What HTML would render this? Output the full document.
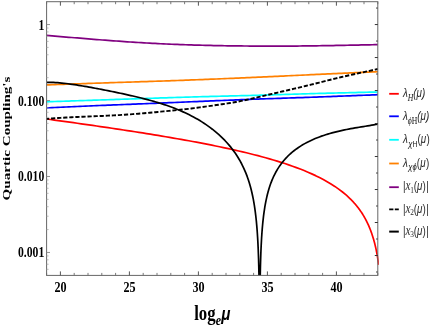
<!DOCTYPE html>
<html><head><meta charset="utf-8"><title>Quartic couplings</title>
<style>
html,body{margin:0;padding:0;background:#fff;}
body{width:436px;height:327px;overflow:hidden;position:relative;font-family:"Liberation Serif",serif;}
svg{position:absolute;left:0;top:0;will-change:transform;}
.tl{font-family:"Liberation Serif",serif;font-weight:bold;font-size:14.8px;fill:#000;}
.lg{font-family:"Liberation Sans",sans-serif;font-style:italic;font-size:12.3px;fill:#2a2a2a;}
</style></head><body>
<svg width="436" height="327" viewBox="0 0 436 327">
<defs><clipPath id="c"><rect x="46.6" y="1.7" width="332.2" height="273.7"/></clipPath></defs>
<g clip-path="url(#c)" fill="none" stroke-width="1.7" stroke-linejoin="round">
<path d="M46.6,119.01 L50.44,119.53 L54.29,120.06 L58.13,120.58 L61.97,121.11 L65.82,121.64 L69.66,122.18 L73.5,122.71 L77.34,123.25 L81.19,123.79 L85.03,124.34 L88.87,124.89 L92.72,125.44 L96.56,125.99 L100.4,126.55 L104.25,127.11 L108.09,127.68 L111.93,128.25 L115.77,128.82 L119.62,129.4 L123.46,129.98 L127.3,130.57 L131.15,131.16 L134.99,131.76 L138.83,132.36 L142.68,132.96 L146.52,133.58 L150.36,134.2 L154.21,134.82 L158.05,135.45 L161.89,136.09 L165.73,136.74 L169.58,137.39 L173.42,138.05 L177.26,138.72 L181.11,139.4 L184.95,140.08 L188.79,140.78 L192.64,141.49 L196.48,142.2 L200.32,142.93 L204.16,143.67 L208.01,144.42 L211.85,145.19 L215.69,145.97 L219.54,146.76 L223.38,147.57 L227.22,148.39 L231.07,149.23 L234.91,150.09 L238.75,150.97 L242.59,151.87 L246.44,152.79 L250.28,153.73 L254.12,154.7 L257.97,155.69 L261.81,156.71 L265.65,157.76 L269.5,158.85 L273.34,159.97 L277.18,161.13 L281.03,162.32 L284.87,163.56 L288.71,164.85 L292.55,166.19 L296.4,167.59 L300.24,169.05 L304.08,170.58 L307.93,172.18 L311.77,173.86 L315.61,175.64 L319.46,177.53 L323.3,179.53 L327.14,181.66 L330.98,183.95 L334.83,186.42 L338.67,189.09 L342.51,192.01 L346.36,195.22 L350.2,198.8 L350.52,199.12 L350.84,199.44 L351.16,199.76 L351.48,200.09 L351.8,200.42 L352.12,200.75 L352.44,201.09 L352.76,201.43 L353.08,201.77 L353.4,202.12 L353.72,202.47 L354.04,202.83 L354.36,203.19 L354.68,203.55 L355,203.92 L355.32,204.29 L355.64,204.67 L355.96,205.05 L356.28,205.43 L356.6,205.82 L356.92,206.22 L357.24,206.62 L357.56,207.02 L357.88,207.43 L358.2,207.85 L358.52,208.27 L358.85,208.7 L359.17,209.13 L359.49,209.57 L359.81,210.01 L360.13,210.46 L360.45,210.92 L360.77,211.39 L361.09,211.86 L361.41,212.33 L361.73,212.82 L362.05,213.31 L362.37,213.81 L362.69,214.32 L363.01,214.83 L363.33,215.36 L363.65,215.89 L363.97,216.43 L364.29,216.99 L364.61,217.55 L364.93,218.12 L365.25,218.7 L365.57,219.29 L365.89,219.89 L366.21,220.51 L366.53,221.13 L366.85,221.77 L367.17,222.42 L367.49,223.09 L367.81,223.77 L368.13,224.46 L368.45,225.17 L368.77,225.89 L369.09,226.63 L369.41,227.39 L369.73,228.17 L370.05,228.96 L370.37,229.78 L370.69,230.62 L371.01,231.48 L371.33,232.36 L371.65,233.27 L371.97,234.2 L372.29,235.16 L372.61,236.15 L372.93,237.17 L373.25,238.22 L373.57,239.31 L373.89,240.44 L374.21,241.61 L374.53,242.82 L374.85,244.08 L375.17,245.38 L375.5,246.75 L375.82,248.17 L376.14,249.66 L376.46,251.21 L376.78,252.85 L377.1,254.57 L377.42,256.39 L377.74,258.31 L378.06,260.36 L378.38,262.54 L378.7,264.88" stroke="#ff0000"/>
<path d="M46.6,107.9 L49.38,107.77 L52.17,107.64 L54.95,107.51 L57.73,107.38 L60.52,107.26 L63.3,107.13 L66.08,107 L68.87,106.87 L71.65,106.75 L74.43,106.62 L77.22,106.49 L80,106.37 L82.78,106.24 L85.56,106.12 L88.35,106 L91.13,105.88 L93.91,105.76 L96.7,105.64 L99.48,105.52 L102.26,105.41 L105.05,105.29 L107.83,105.18 L110.61,105.06 L113.4,104.95 L116.18,104.84 L118.96,104.73 L121.75,104.62 L124.53,104.51 L127.31,104.4 L130.1,104.29 L132.88,104.18 L135.66,104.07 L138.45,103.96 L141.23,103.85 L144.01,103.74 L146.79,103.63 L149.58,103.52 L152.36,103.41 L155.14,103.29 L157.93,103.18 L160.71,103.07 L163.49,102.95 L166.28,102.83 L169.06,102.72 L171.84,102.6 L174.63,102.48 L177.41,102.36 L180.19,102.25 L182.98,102.13 L185.76,102.01 L188.54,101.89 L191.33,101.77 L194.11,101.65 L196.89,101.53 L199.68,101.41 L202.46,101.3 L205.24,101.18 L208.03,101.06 L210.81,100.94 L213.59,100.83 L216.37,100.71 L219.16,100.6 L221.94,100.48 L224.72,100.37 L227.51,100.25 L230.29,100.14 L233.07,100.03 L235.86,99.92 L238.64,99.81 L241.42,99.7 L244.21,99.59 L246.99,99.49 L249.77,99.38 L252.56,99.27 L255.34,99.17 L258.12,99.07 L260.91,98.97 L263.69,98.87 L266.47,98.77 L269.26,98.67 L272.04,98.57 L274.82,98.48 L277.61,98.38 L280.39,98.28 L283.17,98.19 L285.95,98.09 L288.74,98 L291.52,97.91 L294.3,97.81 L297.09,97.72 L299.87,97.62 L302.65,97.53 L305.44,97.43 L308.22,97.33 L311,97.24 L313.79,97.14 L316.57,97.04 L319.35,96.94 L322.14,96.84 L324.92,96.74 L327.7,96.63 L330.49,96.53 L333.27,96.43 L336.05,96.32 L338.84,96.22 L341.62,96.11 L344.4,96.01 L347.18,95.9 L349.97,95.79 L352.75,95.68 L355.53,95.58 L358.32,95.47 L361.1,95.36 L363.88,95.25 L366.67,95.14 L369.45,95.03 L372.23,94.93 L375.02,94.82 L377.8,94.71" stroke="#0000ff"/>
<path d="M46.6,101.8 L49.38,101.71 L52.17,101.61 L54.95,101.52 L57.73,101.43 L60.52,101.33 L63.3,101.24 L66.08,101.14 L68.87,101.05 L71.65,100.96 L74.43,100.86 L77.22,100.77 L80,100.68 L82.78,100.58 L85.56,100.49 L88.35,100.39 L91.13,100.3 L93.91,100.21 L96.7,100.11 L99.48,100.02 L102.26,99.92 L105.05,99.83 L107.83,99.74 L110.61,99.64 L113.4,99.55 L116.18,99.45 L118.96,99.36 L121.75,99.26 L124.53,99.17 L127.31,99.08 L130.1,98.98 L132.88,98.89 L135.66,98.8 L138.45,98.7 L141.23,98.61 L144.01,98.52 L146.79,98.42 L149.58,98.33 L152.36,98.24 L155.14,98.15 L157.93,98.05 L160.71,97.96 L163.49,97.87 L166.28,97.78 L169.06,97.69 L171.84,97.6 L174.63,97.51 L177.41,97.42 L180.19,97.34 L182.98,97.25 L185.76,97.17 L188.54,97.08 L191.33,97 L194.11,96.92 L196.89,96.84 L199.68,96.76 L202.46,96.68 L205.24,96.61 L208.03,96.53 L210.81,96.46 L213.59,96.39 L216.37,96.32 L219.16,96.25 L221.94,96.18 L224.72,96.11 L227.51,96.04 L230.29,95.97 L233.07,95.9 L235.86,95.83 L238.64,95.76 L241.42,95.69 L244.21,95.62 L246.99,95.55 L249.77,95.48 L252.56,95.4 L255.34,95.33 L258.12,95.25 L260.91,95.17 L263.69,95.1 L266.47,95.02 L269.26,94.94 L272.04,94.85 L274.82,94.77 L277.61,94.69 L280.39,94.6 L283.17,94.52 L285.95,94.43 L288.74,94.35 L291.52,94.26 L294.3,94.18 L297.09,94.09 L299.87,94.01 L302.65,93.92 L305.44,93.84 L308.22,93.76 L311,93.68 L313.79,93.6 L316.57,93.52 L319.35,93.44 L322.14,93.37 L324.92,93.29 L327.7,93.22 L330.49,93.15 L333.27,93.07 L336.05,93 L338.84,92.93 L341.62,92.86 L344.4,92.79 L347.18,92.73 L349.97,92.66 L352.75,92.59 L355.53,92.53 L358.32,92.46 L361.1,92.39 L363.88,92.33 L366.67,92.26 L369.45,92.2 L372.23,92.13 L375.02,92.07 L377.8,92" stroke="#00ffff"/>
<path d="M46.6,84.9 L49.38,84.8 L52.17,84.7 L54.95,84.6 L57.73,84.51 L60.52,84.41 L63.3,84.31 L66.08,84.21 L68.87,84.11 L71.65,84.02 L74.43,83.92 L77.22,83.82 L80,83.73 L82.78,83.63 L85.56,83.54 L88.35,83.44 L91.13,83.35 L93.91,83.25 L96.7,83.16 L99.48,83.07 L102.26,82.98 L105.05,82.88 L107.83,82.79 L110.61,82.7 L113.4,82.61 L116.18,82.52 L118.96,82.44 L121.75,82.35 L124.53,82.26 L127.31,82.17 L130.1,82.08 L132.88,81.99 L135.66,81.9 L138.45,81.81 L141.23,81.72 L144.01,81.63 L146.79,81.54 L149.58,81.45 L152.36,81.36 L155.14,81.26 L157.93,81.17 L160.71,81.08 L163.49,80.98 L166.28,80.88 L169.06,80.79 L171.84,80.69 L174.63,80.59 L177.41,80.49 L180.19,80.39 L182.98,80.28 L185.76,80.18 L188.54,80.08 L191.33,79.97 L194.11,79.86 L196.89,79.76 L199.68,79.65 L202.46,79.54 L205.24,79.43 L208.03,79.32 L210.81,79.21 L213.59,79.1 L216.37,78.98 L219.16,78.87 L221.94,78.75 L224.72,78.64 L227.51,78.52 L230.29,78.4 L233.07,78.29 L235.86,78.17 L238.64,78.05 L241.42,77.93 L244.21,77.8 L246.99,77.68 L249.77,77.56 L252.56,77.44 L255.34,77.31 L258.12,77.19 L260.91,77.06 L263.69,76.93 L266.47,76.8 L269.26,76.68 L272.04,76.55 L274.82,76.42 L277.61,76.29 L280.39,76.16 L283.17,76.03 L285.95,75.9 L288.74,75.77 L291.52,75.63 L294.3,75.5 L297.09,75.37 L299.87,75.24 L302.65,75.11 L305.44,74.98 L308.22,74.85 L311,74.72 L313.79,74.59 L316.57,74.46 L319.35,74.33 L322.14,74.2 L324.92,74.07 L327.7,73.95 L330.49,73.82 L333.27,73.69 L336.05,73.57 L338.84,73.44 L341.62,73.32 L344.4,73.19 L347.18,73.07 L349.97,72.94 L352.75,72.82 L355.53,72.69 L358.32,72.57 L361.1,72.45 L363.88,72.32 L366.67,72.2 L369.45,72.08 L372.23,71.95 L375.02,71.83 L377.8,71.71" stroke="#ff8000"/>
<path d="M46.6,35.4 L49.38,35.64 L52.17,35.87 L54.95,36.11 L57.73,36.34 L60.52,36.58 L63.3,36.81 L66.08,37.04 L68.87,37.28 L71.65,37.51 L74.43,37.74 L77.22,37.97 L80,38.2 L82.78,38.43 L85.56,38.65 L88.35,38.88 L91.13,39.1 L93.91,39.32 L96.7,39.54 L99.48,39.76 L102.26,39.98 L105.05,40.19 L107.83,40.4 L110.61,40.61 L113.4,40.82 L116.18,41.02 L118.96,41.22 L121.75,41.42 L124.53,41.61 L127.31,41.8 L130.1,41.99 L132.88,42.17 L135.66,42.35 L138.45,42.52 L141.23,42.69 L144.01,42.86 L146.79,43.02 L149.58,43.18 L152.36,43.33 L155.14,43.47 L157.93,43.61 L160.71,43.75 L163.49,43.88 L166.28,44.01 L169.06,44.13 L171.84,44.25 L174.63,44.36 L177.41,44.47 L180.19,44.57 L182.98,44.67 L185.76,44.77 L188.54,44.86 L191.33,44.95 L194.11,45.03 L196.89,45.11 L199.68,45.19 L202.46,45.27 L205.24,45.34 L208.03,45.4 L210.81,45.47 L213.59,45.53 L216.37,45.59 L219.16,45.64 L221.94,45.69 L224.72,45.74 L227.51,45.78 L230.29,45.83 L233.07,45.87 L235.86,45.9 L238.64,45.93 L241.42,45.97 L244.21,45.99 L246.99,46.02 L249.77,46.04 L252.56,46.06 L255.34,46.08 L258.12,46.09 L260.91,46.1 L263.69,46.11 L266.47,46.12 L269.26,46.12 L272.04,46.13 L274.82,46.13 L277.61,46.12 L280.39,46.12 L283.17,46.11 L285.95,46.1 L288.74,46.08 L291.52,46.07 L294.3,46.05 L297.09,46.03 L299.87,46 L302.65,45.97 L305.44,45.94 L308.22,45.91 L311,45.88 L313.79,45.84 L316.57,45.8 L319.35,45.76 L322.14,45.72 L324.92,45.67 L327.7,45.62 L330.49,45.58 L333.27,45.53 L336.05,45.47 L338.84,45.42 L341.62,45.37 L344.4,45.31 L347.18,45.26 L349.97,45.2 L352.75,45.14 L355.53,45.09 L358.32,45.03 L361.1,44.97 L363.88,44.91 L366.67,44.85 L369.45,44.79 L372.23,44.73 L375.02,44.67 L377.8,44.6" stroke="#800080"/>
<path d="M46.6,118.9 L49.38,118.68 L52.17,118.47 L54.95,118.26 L57.73,118.06 L60.52,117.87 L63.3,117.69 L66.08,117.53 L68.87,117.38 L71.65,117.23 L74.43,117.1 L77.22,116.97 L80,116.85 L82.78,116.74 L85.56,116.62 L88.35,116.51 L91.13,116.4 L93.91,116.29 L96.7,116.17 L99.48,116.05 L102.26,115.93 L105.05,115.8 L107.83,115.67 L110.61,115.53 L113.4,115.39 L116.18,115.23 L118.96,115.08 L121.75,114.91 L124.53,114.73 L127.31,114.55 L130.1,114.35 L132.88,114.14 L135.66,113.93 L138.45,113.7 L141.23,113.46 L144.01,113.21 L146.79,112.96 L149.58,112.71 L152.36,112.45 L155.14,112.19 L157.93,111.93 L160.71,111.67 L163.49,111.41 L166.28,111.15 L169.06,110.88 L171.84,110.61 L174.63,110.34 L177.41,110.05 L180.19,109.76 L182.98,109.46 L185.76,109.14 L188.54,108.82 L191.33,108.49 L194.11,108.14 L196.89,107.78 L199.68,107.41 L202.46,107.03 L205.24,106.65 L208.03,106.25 L210.81,105.85 L213.59,105.45 L216.37,105.05 L219.16,104.64 L221.94,104.23 L224.72,103.82 L227.51,103.39 L230.29,102.94 L233.07,102.48 L235.86,101.99 L238.64,101.46 L241.42,100.91 L244.21,100.33 L246.99,99.73 L249.77,99.11 L252.56,98.48 L255.34,97.83 L258.12,97.17 L260.91,96.51 L263.69,95.85 L266.47,95.19 L269.26,94.53 L272.04,93.88 L274.82,93.23 L277.61,92.59 L280.39,91.94 L283.17,91.3 L285.95,90.65 L288.74,90.01 L291.52,89.36 L294.3,88.7 L297.09,88.04 L299.87,87.38 L302.65,86.7 L305.44,86.03 L308.22,85.34 L311,84.66 L313.79,83.96 L316.57,83.27 L319.35,82.56 L322.14,81.86 L324.92,81.15 L327.7,80.44 L330.49,79.74 L333.27,79.04 L336.05,78.35 L338.84,77.68 L341.62,77.02 L344.4,76.38 L347.18,75.74 L349.97,75.12 L352.75,74.51 L355.53,73.9 L358.32,73.29 L361.1,72.68 L363.88,72.06 L366.67,71.44 L369.45,70.82 L372.23,70.2 L375.02,69.57 L377.8,68.95" stroke="#000" stroke-width="1.9" stroke-dasharray="4.22 1.86" stroke-dashoffset="1.6"/>
<path d="M46.6,82.28 L47.16,82.28 L49.25,82.3 L51.35,82.35 L53.44,82.44 L55.53,82.55 L57.62,82.7 L59.71,82.87 L61.8,83.06 L63.89,83.28 L65.98,83.52 L68.07,83.78 L70.16,84.05 L72.25,84.34 L74.35,84.65 L76.44,84.96 L78.53,85.29 L80.62,85.63 L82.71,85.98 L84.8,86.34 L86.89,86.7 L88.98,87.08 L91.07,87.46 L93.16,87.84 L95.25,88.23 L97.35,88.63 L99.44,89.03 L101.53,89.43 L103.62,89.84 L105.71,90.25 L107.8,90.67 L109.89,91.09 L111.98,91.52 L114.07,91.94 L116.16,92.38 L118.25,92.81 L120.35,93.26 L122.44,93.7 L124.53,94.16 L126.62,94.61 L128.71,95.08 L130.8,95.55 L132.89,96.03 L134.98,96.52 L137.07,97.01 L139.16,97.52 L141.25,98.03 L143.35,98.56 L145.44,99.1 L147.53,99.65 L149.62,100.21 L151.71,100.79 L153.8,101.38 L155.89,101.99 L157.98,102.62 L160.07,103.26 L162.16,103.92 L164.25,104.61 L166.35,105.31 L168.44,106.04 L170.53,106.79 L172.62,107.57 L174.71,108.37 L176.8,109.2 L178.89,110.06 L180.98,110.95 L183.07,111.88 L185.16,112.83 L187.25,113.82 L189.35,114.85 L191.44,115.91 L193.53,117.02 L195.62,118.17 L197.71,119.36 L199.8,120.6 L201.89,121.89 L203.98,123.23 L206.07,124.63 L208.16,126.09 L210.25,127.61 L212.35,129.2 L214.44,130.86 L216.53,132.6 L218.62,134.42 L220.71,136.33 L222.8,138.35 L224.89,140.47 L226.98,142.72 L229.07,145.11 L231.16,147.66 L233.25,150.38 L235.35,153.31 L237.44,156.49 L239.53,159.95 L241.62,163.78 L243.71,168.04 L245.8,172.87 L247.07,176.17 L248.23,179.45 L249.28,182.72 L250.23,185.98 L251.09,189.23 L251.88,192.47 L252.59,195.71 L253.24,198.94 L253.82,202.17 L254.36,205.39 L254.84,208.61 L255.28,211.82 L255.68,215.03 L256.04,218.24 L256.37,221.45 L256.66,224.65 L256.94,227.86 L257.18,231.06 L257.4,234.26 L257.61,237.46 L257.79,240.66 L257.96,243.86 L258.11,247.05 L258.25,250.25 L258.37,253.45 L258.48,256.64 L258.59,259.84 L258.68,263.03 L258.77,266.23 L258.84,269.42 L258.91,272.62 L258.98,275.81 L259.03,278.4 L259.09,278.4 L259.13,278.4 L259.18,278.4 L259.22,278.4 L259.25,278.4 L259.28,278.4 L259.31,278.4 L259.34,278.4 L259.36,278.4 L259.38,278.4 L259.4,278.4 L259.42,278.4 L259.44,278.4 L259.45,278.4 L259.47,278.4 L259.48,278.4 L259.49,278.4 L259.5,278.4 L259.51,278.4 L259.52,278.4 L259.53,278.4 L259.53,278.4 L259.54,278.4 L259.54,278.4 L259.55,278.4 L259.55,278.4 L259.56,278.4 L259.56,278.4 L259.57,278.4 L259.57,278.4 L259.57,278.4 L259.57,278.4 L259.58,278.4 L259.58,278.4 L259.58,278.4 L259.58,278.4 L259.58,278.4 L259.59,278.4 L259.59,278.4 L259.59,278.4 L259.59,278.4 L259.59,278.4 L259.59,278.4 L259.59,278.4 L259.59,278.4 L259.59,278.4 L259.59,278.4 L259.59,278.4 L259.6,278.4 L259.6,278.4 L259.6,278.4 L259.6,278.4 L259.6,278.4 L259.6,278.4 L259.6,278.4 L259.6,278.4 L259.6,278.4 L259.6,278.4 L259.6,278.4 L259.6,278.4 L259.6,278.4 L259.6,278.4 L259.6,278.4 L259.6,278.4 L259.6,278.4 L259.6,278.4 L259.6,278.4 L259.6,278.4 L259.6,278.4 L259.6,278.4 L259.6,278.4 L259.6,278.4 L259.6,278.4 L259.6,278.4 L259.6,278.4 L259.6,278.4 L259.6,278.4 L259.6,278.4 L259.6,278.4 L259.6,278.4 L259.6,278.4 L259.6,278.4 L259.6,278.4 L259.6,278.4 L259.6,278.4 L259.6,278.4 L259.6,278.4 L259.6,278.4 L259.6,278.4 L259.6,278.4 L259.6,278.4 L259.6,278.4 L259.6,278.4 L259.6,278.4 L259.6,278.4 L259.6,278.4 L259.6,278.4 L259.6,278.4 L259.6,278.4 L259.6,278.4 L259.6,278.4 L259.6,278.4 L259.6,278.4 L259.6,278.4 L259.6,278.4 L259.6,278.4 L259.6,278.4 L259.6,278.4 L259.6,278.4 L259.6,278.4 L259.6,278.4 L259.6,278.4 L259.6,278.4 L259.6,278.4 L259.6,278.4 L259.6,278.4 L259.6,278.4 L259.6,278.4 L259.6,278.4 L259.6,278.4 L259.6,278.4 L259.6,278.4 L259.6,278.4 L259.6,278.4 L259.61,278.4 L259.61,278.4 L259.61,278.4 L259.61,278.4 L259.61,278.4 L259.61,278.4 L259.61,278.4 L259.61,278.4 L259.61,278.4 L259.61,278.4 L259.61,278.4 L259.62,278.4 L259.62,278.4 L259.62,278.4 L259.62,278.4 L259.62,278.4 L259.63,278.4 L259.63,278.4 L259.63,278.4 L259.63,278.4 L259.64,278.4 L259.64,278.4 L259.65,278.4 L259.65,278.4 L259.66,278.4 L259.66,278.4 L259.67,278.4 L259.67,278.4 L259.68,278.4 L259.69,278.4 L259.7,278.4 L259.71,278.4 L259.72,278.4 L259.73,278.4 L259.75,278.4 L259.76,278.4 L259.78,278.4 L259.8,278.4 L259.82,278.4 L259.84,278.4 L259.86,278.4 L259.89,278.4 L259.92,278.4 L259.95,278.4 L259.98,278.4 L260.02,278.4 L260.07,278.4 L260.11,278.4 L260.17,278.4 L260.22,276 L260.29,272.82 L260.36,269.65 L260.43,266.48 L260.52,263.31 L260.61,260.14 L260.72,256.98 L260.83,253.82 L260.95,250.66 L261.09,247.5 L261.24,244.35 L261.41,241.2 L261.59,238.06 L261.8,234.92 L262.02,231.78 L262.26,228.65 L262.54,225.53 L262.83,222.42 L263.16,219.31 L263.52,216.21 L263.92,213.11 L264.36,210.03 L264.84,206.96 L265.38,203.9 L265.96,200.85 L266.61,197.81 L267.32,194.78 L268.11,191.77 L268.97,188.78 L269.92,185.8 L270.97,182.84 L272.13,179.9 L273.4,176.98 L275.49,172.77 L277.58,169.11 L279.67,165.89 L281.76,163.03 L283.85,160.45 L285.95,158.11 L288.04,155.97 L290.13,154 L292.22,152.19 L294.31,150.5 L296.4,148.94 L298.49,147.48 L300.58,146.11 L302.67,144.83 L304.76,143.63 L306.85,142.49 L308.95,141.43 L311.04,140.42 L313.13,139.47 L315.22,138.57 L317.31,137.72 L319.4,136.92 L321.49,136.16 L323.58,135.43 L325.67,134.75 L327.76,134.1 L329.85,133.48 L331.95,132.9 L334.04,132.34 L336.13,131.81 L338.22,131.31 L340.31,130.82 L342.4,130.36 L344.49,129.92 L346.58,129.5 L348.67,129.09 L350.76,128.7 L352.85,128.32 L354.95,127.95 L357.04,127.6 L359.13,127.24 L361.22,126.9 L363.31,126.56 L365.4,126.22 L367.49,125.88 L369.58,125.54 L371.67,125.2 L373.76,124.85 L375.85,124.49 L377.8,124.15" stroke="#000" stroke-width="1.7"/>
</g>
<g fill="none" stroke="#666" stroke-width="1">
<rect x="46.6" y="1.7" width="331.2" height="273.7"/>
<path d="M60.4,275.4 v-4 M60.4,1.7 v4 M129.4,275.4 v-4 M129.4,1.7 v4 M198.4,275.4 v-4 M198.4,1.7 v4 M267.4,275.4 v-4 M267.4,1.7 v4 M336.4,275.4 v-4 M336.4,1.7 v4" stroke="#555" stroke-width="1"/>
<path d="M46.6,275.4 v-2.5 M46.6,1.7 v2.5 M74.2,275.4 v-2.5 M74.2,1.7 v2.5 M88,275.4 v-2.5 M88,1.7 v2.5 M101.8,275.4 v-2.5 M101.8,1.7 v2.5 M115.6,275.4 v-2.5 M115.6,1.7 v2.5 M143.2,275.4 v-2.5 M143.2,1.7 v2.5 M157,275.4 v-2.5 M157,1.7 v2.5 M170.8,275.4 v-2.5 M170.8,1.7 v2.5 M184.6,275.4 v-2.5 M184.6,1.7 v2.5 M212.2,275.4 v-2.5 M212.2,1.7 v2.5 M226,275.4 v-2.5 M226,1.7 v2.5 M239.8,275.4 v-2.5 M239.8,1.7 v2.5 M253.6,275.4 v-2.5 M253.6,1.7 v2.5 M281.2,275.4 v-2.5 M281.2,1.7 v2.5 M295,275.4 v-2.5 M295,1.7 v2.5 M308.8,275.4 v-2.5 M308.8,1.7 v2.5 M322.6,275.4 v-2.5 M322.6,1.7 v2.5 M350.2,275.4 v-2.5 M350.2,1.7 v2.5 M364,275.4 v-2.5 M364,1.7 v2.5 M377.8,275.4 v-2.5 M377.8,1.7 v2.5" stroke="#6a6a6a" stroke-width="0.9"/>
<path d="M46.6,252.46 h3.4 M46.6,176.49 h3.4 M46.6,100.52 h3.4 M46.6,24.55 h3.4" stroke="#888" stroke-width="0.9"/>
<path d="M46.6,269.31 h2 M46.6,264.23 h2 M46.6,259.82 h2 M46.6,255.94 h2 M46.6,229.59 h2 M46.6,216.21 h2 M46.6,206.72 h2 M46.6,199.36 h2 M46.6,193.34 h2 M46.6,188.26 h2 M46.6,183.85 h2 M46.6,179.97 h2 M46.6,153.62 h2 M46.6,140.24 h2 M46.6,130.75 h2 M46.6,123.39 h2 M46.6,117.37 h2 M46.6,112.29 h2 M46.6,107.88 h2 M46.6,104 h2 M46.6,77.65 h2 M46.6,64.27 h2 M46.6,54.78 h2 M46.6,47.42 h2 M46.6,41.4 h2 M46.6,36.32 h2 M46.6,31.91 h2 M46.6,28.03 h2" stroke="#aaa" stroke-width="0.8"/>
<path d="M377.8,255.5 h-3 M377.8,222.51 h-3 M377.8,189.52 h-3 M377.8,156.52 h-3 M377.8,123.53 h-3 M377.8,90.54 h-3 M377.8,57.54 h-3 M377.8,24.55 h-3" stroke="#333" stroke-width="1"/>
<path d="M377.8,272 h-1.8 M377.8,239.01 h-1.8 M377.8,206.01 h-1.8 M377.8,173.02 h-1.8 M377.8,140.03 h-1.8 M377.8,107.03 h-1.8 M377.8,74.04 h-1.8 M377.8,41.05 h-1.8 M377.8,8.05 h-1.8" stroke="#444" stroke-width="1"/>
</g>
<text class="tl" text-anchor="end" transform="translate(44.3,29.6) scale(0.79,1)">1</text>
<text class="tl" text-anchor="end" transform="translate(44.3,105.5) scale(0.79,1)">0.100</text>
<text class="tl" text-anchor="end" transform="translate(44.3,180.6) scale(0.79,1)">0.010</text>
<text class="tl" text-anchor="end" transform="translate(44.3,256.6) scale(0.79,1)">0.001</text>
<text class="tl" text-anchor="middle" transform="translate(60.6,291.5) scale(0.82,1)">20</text>
<text class="tl" text-anchor="middle" transform="translate(129.6,291.5) scale(0.82,1)">25</text>
<text class="tl" text-anchor="middle" transform="translate(198.6,291.5) scale(0.82,1)">30</text>
<text class="tl" text-anchor="middle" transform="translate(267.6,291.5) scale(0.82,1)">35</text>
<text class="tl" text-anchor="middle" transform="translate(336.6,291.5) scale(0.82,1)">40</text>
<text transform="translate(10.2,138.5) rotate(-90) scale(1.35,1)" text-anchor="middle" style="font-family:'Liberation Serif',serif;font-weight:bold;font-size:11.2px">Quartic Coupling's</text>
<text transform="translate(194.2,320.1) scale(0.8,1)" style="font-family:'Liberation Serif',serif;font-weight:bold;font-size:21px">log<tspan dy="5.3" dx="0" style="font-style:italic;font-weight:bold;font-size:15px">e</tspan><tspan dy="-5.3" dx="0.4" style="font-family:'Liberation Sans',sans-serif;font-style:italic;font-weight:bold;font-size:19px">μ</tspan></text>
<path d="M389.2,93.8 h9.6" stroke="#ff0000" stroke-width="1.8" fill="none"/>
<path d="M389.2,116.3 h9.6" stroke="#0000ff" stroke-width="1.8" fill="none"/>
<path d="M389.2,139.8 h9.6" stroke="#00ffff" stroke-width="1.8" fill="none"/>
<path d="M389.2,163.5 h9.6" stroke="#ff8000" stroke-width="1.8" fill="none"/>
<path d="M389.2,187.2 h9.6" stroke="#800080" stroke-width="1.8" fill="none"/>
<path d="M389.2,209.4 h9.6" stroke="#000" stroke-width="1.9" stroke-dasharray="4.2 1.4" fill="none"/>
<path d="M389.2,231.6 h9.6" stroke="#000" stroke-width="2.0" fill="none"/>
<text class="lg" transform="translate(402.9,97.4) scale(0.8,1)">λ<tspan dy="3.9" style="font-family:'Liberation Serif',serif;font-size:9.6px;fill:#111">H</tspan><tspan dy="-3.9">(μ)</tspan></text>
<text class="lg" transform="translate(402.9,119.9) scale(0.8,1)">λ<tspan dy="3.9" style="font-family:'Liberation Serif',serif;font-size:9.6px;fill:#111">ϕ<tspan style="font-style:normal">H</tspan></tspan><tspan dy="-3.9">(μ)</tspan></text>
<text class="lg" transform="translate(402.9,143.4) scale(0.8,1)">λ<tspan dy="3.2" dx="0.6" style="font-family:'Liberation Sans',sans-serif;font-size:9.6px;fill:#111">χ<tspan style="font-style:normal;font-size:8.6px">H</tspan></tspan><tspan dy="-3.2" dx="0.2" style="font-style:normal">(</tspan>μ<tspan dx="0.5" style="font-style:normal">)</tspan></text>
<text class="lg" transform="translate(402.9,167.1) scale(0.8,1)">λ<tspan dy="3.2" dx="0.6" style="font-family:'Liberation Sans',sans-serif;font-size:9.6px;fill:#111">χϕ</tspan><tspan dy="-3.2" dx="0.2" style="font-style:normal">(</tspan>μ<tspan dx="0.5" style="font-style:normal">)</tspan></text>
<text class="lg" transform="translate(402.9,190.4) scale(0.8,1)"><tspan style="font-style:normal">|</tspan><tspan dx="0.1" style="font-family:'Liberation Serif',serif;font-size:14px">x</tspan><tspan dy="2.6" dx="-0.2" style="font-family:'Liberation Serif',serif;font-style:normal;font-size:9.2px">1</tspan><tspan dy="-2.6" dx="-0.4" style="font-style:normal">(</tspan>μ<tspan dx="0" style="font-style:normal">)</tspan><tspan style="font-style:normal" dx="0.6">|</tspan></text>
<text class="lg" transform="translate(402.9,212.6) scale(0.8,1)"><tspan style="font-style:normal">|</tspan><tspan dx="0.1" style="font-family:'Liberation Serif',serif;font-size:14px">x</tspan><tspan dy="2.6" dx="-0.2" style="font-family:'Liberation Serif',serif;font-style:normal;font-size:9.2px">2</tspan><tspan dy="-2.6" dx="-0.4" style="font-style:normal">(</tspan>μ<tspan dx="0" style="font-style:normal">)</tspan><tspan style="font-style:normal" dx="0.6">|</tspan></text>
<text class="lg" transform="translate(402.9,234.8) scale(0.8,1)"><tspan style="font-style:normal">|</tspan><tspan dx="0.1" style="font-family:'Liberation Serif',serif;font-size:14px">x</tspan><tspan dy="2.6" dx="-0.2" style="font-family:'Liberation Serif',serif;font-style:normal;font-size:9.2px">3</tspan><tspan dy="-2.6" dx="-0.4" style="font-style:normal">(</tspan>μ<tspan dx="0" style="font-style:normal">)</tspan><tspan style="font-style:normal" dx="0.6">|</tspan></text>
</svg>
</body></html>
